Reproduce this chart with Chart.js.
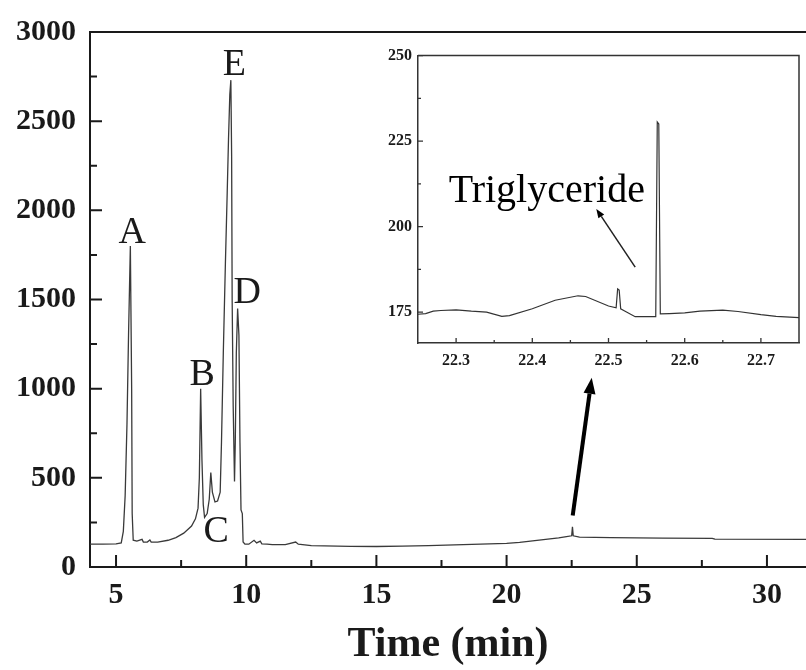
<!DOCTYPE html>
<html lang="en">
<head>
<meta charset="UTF-8" />
<title>Chromatogram</title>
<script src="https://cdn.jsdelivr.net/npm/chart.js"></script>
<style>
  body { margin: 0; background: #fff; }
  #wrap { position: relative; width: 806px; height: 670px; }
  #mainChart { position: absolute; left: 0; top: 0; }
  #insetChart { position: absolute; left: 370px; top: 40px; }
</style>
</head>
<body>
<div id="wrap">
  <canvas id="mainChart" width="806" height="670"></canvas>
  <canvas id="insetChart" width="436" height="340"></canvas>
</div>
<script>
  // main chromatogram (time in min, signal)
  const mainTime = [4.0, 4.5, 5.0, 5.2, 5.28, 5.35, 5.42, 5.48, 5.55, 5.6, 5.62, 5.66, 5.8, 6.0, 6.05, 6.2, 6.3, 6.35, 6.6,
    7.0, 7.3, 7.6, 7.9, 8.05, 8.15, 8.2, 8.25, 8.3, 8.35, 8.4, 8.5, 8.58, 8.64, 8.7, 8.8, 8.9, 9.0, 9.05, 9.12, 9.2,
    9.27, 9.32, 9.37, 9.41, 9.44, 9.46, 9.5, 9.55, 9.58, 9.62, 9.67, 9.72, 9.76, 9.8, 9.85, 9.88, 9.95, 10.1, 10.3,
    10.4, 10.54, 10.6, 10.8, 11.0, 11.5, 11.9, 12.0, 12.5, 13, 14, 15, 16, 17, 18, 19, 20, 20.5, 21, 21.5, 22, 22.3,
    22.5, 22.53, 22.56, 22.8, 24, 25, 26, 27.9, 28.0, 31.5];
  const mainSignal = [128, 128, 130, 135, 200, 400, 800, 1300, 1800, 1000, 300, 150, 145, 155, 140, 140, 152, 140, 140,
    150, 165, 190, 230, 270, 330, 500, 1000, 600, 350, 278, 300, 380, 530, 420, 365, 370, 420, 700, 1200, 1700,
    2100, 2400, 2650, 2730, 2300, 1500, 900, 480, 700, 1200, 1450, 1300, 700, 320, 300, 140, 128, 128, 150,
    135, 145, 130, 128, 125, 125, 140, 128, 120, 118, 116, 115, 117, 120, 124, 128, 133, 138, 146, 155, 163, 170,
    175, 225, 175, 168, 165, 163, 162, 161, 156, 155];
  const mainXTicks = [5, 10, 15, 20, 25, 30];
  const mainXMinor = [7.5, 12.5, 17.5, 22.5, 27.5];
  const mainYTicks = [0, 500, 1000, 1500, 2000, 2500, 3000];
  const mainYMinor = [250, 750, 1250, 1750, 2250, 2750];

  // peak labels
  const peakNames = ['A', 'B', 'C', 'D', 'E'];
  const peakLabelTime = [5.62, 8.31, 8.85, 10.04, 9.54];
  const peakLabelValue = [1817, 1022, 139, 1483, 2761];

  // zoomed window around 22.5 min
  const insetTime = [22.25, 22.26, 22.27, 22.28, 22.30, 22.32, 22.34, 22.36, 22.37, 22.40, 22.43, 22.46, 22.47, 22.50,
    22.51, 22.512, 22.514, 22.516, 22.52, 22.535, 22.562, 22.564, 22.566, 22.568, 22.58, 22.60, 22.62, 22.65, 22.67,
    22.70, 22.72, 22.75];
  const insetSignal = [174.4, 174.6, 175.3, 175.5, 175.7, 175.3, 175.0, 173.8, 174.0, 176.0, 178.5, 179.8, 179.6, 176.8,
    176.3, 181.8, 181.5, 176.0, 175.5, 173.7, 173.7, 230.6, 230.0, 174.5, 174.6, 174.8, 175.3, 175.6, 175.2,
    174.3, 173.8, 173.4];
  const insetXTicks = [22.3, 22.4, 22.5, 22.6, 22.7];
  const insetXMinor = [22.35, 22.45, 22.55, 22.65];
  const insetYTicks = [175, 200, 225, 250];
  const insetYMinor = [187.5, 212.5, 237.5];

  const serif = '"Liberation Serif", "Times New Roman", serif';
  const ink = '#1a1a1a';

  function drawArrow(ctx, x1, y1, x2, y2, lw, headLen, headW) {
    const ang = Math.atan2(y2 - y1, x2 - x1);
    const bx = x2 - headLen * Math.cos(ang), by = y2 - headLen * Math.sin(ang);
    ctx.lineWidth = lw;
    ctx.beginPath();
    ctx.moveTo(x1, y1);
    ctx.lineTo(bx, by);
    ctx.stroke();
    ctx.beginPath();
    ctx.moveTo(x2, y2);
    ctx.lineTo(bx + headW / 2 * Math.sin(ang), by - headW / 2 * Math.cos(ang));
    ctx.lineTo(bx - headW / 2 * Math.sin(ang), by + headW / 2 * Math.cos(ang));
    ctx.closePath();
    ctx.fill();
  }

  // inward tick marks + optional frame
  const inwardTicks = {
    id: 'inwardTicks',
    afterDraw(chart, args, o) {
      const { ctx, chartArea: a, scales: { x, y } } = chart;
      ctx.save();
      ctx.strokeStyle = o.color;
      ctx.lineWidth = o.width;
      ctx.beginPath();
      o.xMajor.forEach(v => { const p = x.getPixelForValue(v); ctx.moveTo(p, a.bottom); ctx.lineTo(p, a.bottom - o.major); });
      o.xMinor.forEach(v => { const p = x.getPixelForValue(v); ctx.moveTo(p, a.bottom); ctx.lineTo(p, a.bottom - o.minor); });
      o.yMajor.forEach(v => { const p = y.getPixelForValue(v); ctx.moveTo(a.left, p); ctx.lineTo(a.left + o.major, p); });
      o.yMinor.forEach(v => { const p = y.getPixelForValue(v); ctx.moveTo(a.left, p); ctx.lineTo(a.left + o.minor, p); });
      ctx.stroke();
      ctx.lineWidth = o.frameWidth;
      ctx.beginPath();
      ctx.moveTo(a.left, a.top);
      ctx.lineTo(a.right, a.top);
      if (o.box) ctx.lineTo(a.right, a.bottom);
      ctx.stroke();
      ctx.restore();
    }
  };

  const mainNotes = {
    id: 'mainNotes',
    afterDraw(chart) {
      const { ctx, scales: { x, y } } = chart;
      ctx.save();
      ctx.fillStyle = ink;
      ctx.strokeStyle = '#000';
      ctx.font = '38px ' + serif;
      ctx.textAlign = 'center';
      ctx.textBaseline = 'alphabetic';
      peakNames.forEach((n, i) => {
        ctx.fillText(n, x.getPixelForValue(peakLabelTime[i]), y.getPixelForValue(peakLabelValue[i]));
      });
      ctx.fillStyle = '#000';
      drawArrow(ctx, x.getPixelForValue(22.54), y.getPixelForValue(289),
        x.getPixelForValue(23.27), y.getPixelForValue(1061), 4, 16, 12);
      ctx.restore();
    }
  };

  const insetNotes = {
    id: 'insetNotes',
    afterDraw(chart) {
      const { ctx, scales: { x, y } } = chart;
      ctx.save();
      ctx.fillStyle = '#000';
      ctx.strokeStyle = '#222';
      ctx.font = '40px ' + serif;
      ctx.textAlign = 'center';
      ctx.textBaseline = 'alphabetic';
      ctx.fillText('Triglyceride', x.getPixelForValue(22.419), y.getPixelForValue(207.2));
      drawArrow(ctx, x.getPixelForValue(22.535), y.getPixelForValue(188.2),
        x.getPixelForValue(22.484), y.getPixelForValue(205.2), 1.5, 9, 7);
      ctx.restore();
    }
  };

  function pts(xs, ys) {
    return xs.map((t, i) => ({ x: t, y: ys[i] }));
  }

  const plain = v => String(v);

  new Chart(document.getElementById('mainChart'), {
    type: 'line',
    data: {
      datasets: [{
        data: pts(mainTime, mainSignal),
        borderColor: '#3a3a3a',
        borderWidth: 1.3,
        pointRadius: 0,
        tension: 0
      }]
    },
    options: {
      responsive: false,
      animation: false,
      events: [],
      layout: { padding: { top: 23, right: 0, left: 0, bottom: 0 } },
      plugins: {
        legend: { display: false },
        tooltip: { enabled: false },
        inwardTicks: {
          color: ink, width: 2, major: 12, minor: 7, frameWidth: 2, box: false,
          xMajor: mainXTicks, xMinor: mainXMinor, yMajor: mainYTicks, yMinor: mainYMinor
        }
      },
      scales: {
        x: {
          type: 'linear',
          min: 4,
          max: 31.5,
          afterBuildTicks: s => { s.ticks = mainXTicks.map(v => ({ value: v })); },
          afterFit: s => { s.height = 103; },
          grid: { display: false, drawTicks: false },
          border: { display: true, color: ink, width: 2 },
          ticks: { padding: 10, color: ink, callback: plain, font: { family: serif, size: 30, weight: 'bold' } },
          title: {
            display: true,
            text: 'Time (min)',
            color: ink,
            padding: { top: 0, bottom: 0 },
            font: { family: serif, size: 42, weight: 'bold' }
          }
        },
        y: {
          min: 0,
          max: 3000,
          afterBuildTicks: s => { s.ticks = mainYTicks.map(v => ({ value: v })); },
          afterFit: s => { s.width = 90; },
          grid: { display: false, drawTicks: false },
          border: { display: true, color: ink, width: 2 },
          ticks: { padding: 14, color: ink, callback: plain, font: { family: serif, size: 30, weight: 'bold' } }
        }
      }
    },
    plugins: [inwardTicks, mainNotes]
  });

  new Chart(document.getElementById('insetChart'), {
    type: 'line',
    data: {
      datasets: [{
        data: pts(insetTime, insetSignal),
        borderColor: '#333',
        borderWidth: 1.2,
        pointRadius: 0,
        tension: 0
      }]
    },
    options: {
      responsive: false,
      animation: false,
      events: [],
      layout: { padding: { top: 12, right: 7, left: 0, bottom: 0 } },
      plugins: {
        legend: { display: false },
        tooltip: { enabled: false },
        inwardTicks: {
          color: '#333', width: 1.3, major: 5, minor: 3, frameWidth: 1.5, box: true,
          xMajor: insetXTicks, xMinor: insetXMinor, yMajor: insetYTicks, yMinor: insetYMinor
        }
      },
      scales: {
        x: {
          type: 'linear',
          min: 22.25,
          max: 22.75,
          afterBuildTicks: s => { s.ticks = insetXTicks.map(v => ({ value: v })); },
          afterFit: s => { s.height = 37; },
          grid: { display: false, drawTicks: false },
          border: { display: true, color: '#333', width: 1.5 },
          ticks: { padding: 8, color: ink, callback: plain, font: { family: serif, size: 16, weight: 'bold' } }
        },
        y: {
          min: 166,
          max: 250,
          afterBuildTicks: s => { s.ticks = insetYTicks.map(v => ({ value: v })); },
          afterFit: s => { s.width = 48; },
          grid: { display: false, drawTicks: false },
          border: { display: true, color: '#333', width: 1.5 },
          ticks: { padding: 6, color: ink, callback: plain, font: { family: serif, size: 16, weight: 'bold' } }
        }
      }
    },
    plugins: [inwardTicks, insetNotes]
  });
</script>
</body>
</html>
